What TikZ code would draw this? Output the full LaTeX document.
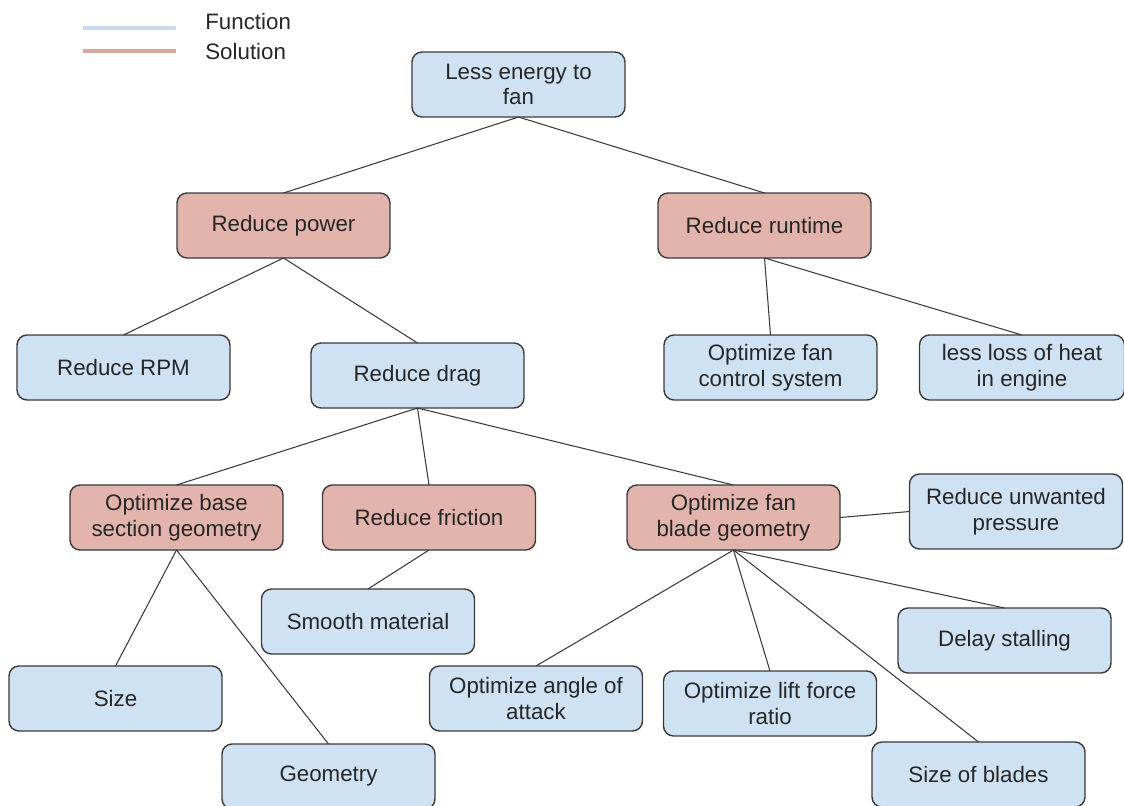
\documentclass[tikz,border=0pt]{standalone}
\usepackage{fontspec}
\setmainfont{Liberation Sans}
\usepackage{tikz}
\usetikzlibrary{positioning}

\definecolor{fnblue}{HTML}{CFE2F3}
\definecolor{solred}{HTML}{E2B4AB}
\definecolor{legblue}{HTML}{C9DAF0}
\definecolor{legred}{HTML}{DBA69B}
\definecolor{edgegrey}{HTML}{3A3A3A}

\begin{document}
\begin{tikzpicture}[box/.style={rectangle, rounded corners=0.2cm, draw=edgegrey, line width=0.8pt, minimum width=4.26cm, minimum height=1.3cm, inner sep=2pt, outer sep=0pt, align=center, text=black!85, font=\fontsize{12.7}{14.5}\selectfont},
        fn/.style={box, fill=fnblue},
        sol/.style={box, fill=solred},
        link/.style={draw=edgegrey, line width=0.6pt},
        node distance=1cm]
        \useasboundingbox (0,0) rectangle (22.48,-16.1);
        \clip (0,0) rectangle (22.48,-16.1);
        % legend
        \coordinate (lg_fn_a) at (1.66,-0.56);
        \coordinate (lg_fn_b) at (3.52,-0.56);
        \coordinate (lg_sol_a) at (1.66,-1.02);
        \coordinate (lg_sol_b) at (3.52,-1.02);
        \draw[legblue, line width=2.2pt] (lg_fn_a) -- (lg_fn_b);
        \draw[legred, line width=2.2pt] (lg_sol_a) -- (lg_sol_b);
        \node[anchor=west, inner sep=0pt, font=\fontsize{12.7}{14.5}\selectfont, text=black!85] (lg_fn) at (4.1,-0.44) {Function};
        \node[anchor=west, inner sep=0pt, font=\fontsize{12.7}{14.5}\selectfont, text=black!85] (lg_sol) at (4.1,-1.04) {Solution};

        % tree
        \node[fn] (energy) at (10.37,-1.69) {Less energy to\\fan};
        \node[sol] (power) [below = 1.52cm of energy, xshift=-4.7cm] {Reduce power};
        \node[sol] (runtime) [right = 5.36cm of power] {Reduce runtime};

        \node[fn] (rpm) [below = 1.54cm of power, xshift=-3.2cm] {Reduce RPM};
        \node[fn] (drag) [below = 1.7cm of power, xshift=2.68cm] {Reduce drag};
        \node[fn] (control) [below = 1.54cm of runtime, xshift=0.12cm] {Optimize fan\\control system};
        \node[fn, minimum width=4.1cm] (heat) [right = 0.85cm of control] {less loss of heat\\in engine};

        \node[sol] (base) [below = 1.54cm of drag, xshift=-4.82cm] {Optimize base\\section geometry};
        \node[sol] (friction) [right = 0.79cm of base] {Reduce friction};
        \node[sol] (blade) [right = 1.83cm of friction] {Optimize fan\\blade geometry};
        \node[fn, minimum height=1.5cm] (pressure) [right = 1.39cm of blade, yshift=0.12cm] {Reduce unwanted\\pressure};

        \node[fn] (smooth) [below = 0.78cm of friction, xshift=-1.22cm] {Smooth material};
        \node[fn] (size) [below = 2.32cm of base, xshift=-1.22cm] {Size};
        \node[fn] (geometry) [below = 3.88cm of base, xshift=3.04cm] {Geometry};
        \node[fn] (stalling) [below = 1.16cm of blade, xshift=5.42cm] {Delay stalling};
        \node[fn] (angle) [below = 2.32cm of blade, xshift=-3.95cm] {Optimize angle of\\attack};
        \node[fn] (lift) [below = 2.42cm of blade, xshift=0.73cm] {Optimize lift force\\ratio};
        \node[fn] (blades) [below = 3.84cm of blade, xshift=4.9cm] {Size of blades};

        \path[link] (energy.south) edge (power.north);
        \path[link] (energy.south) edge (runtime.north);
        \path[link] (power.south) edge (rpm.north);
        \path[link] (power.south) edge (drag.north);
        \path[link] (runtime.south) edge (control.north);
        \path[link] (runtime.south) edge (heat.north);
        \path[link] (drag.south) edge (base.north);
        \path[link] (drag.south) edge (friction.north);
        \path[link] (drag.south) edge (blade.north);
        \path[link] (blade.east) edge (pressure.west);
        \path[link] (friction.south) edge (smooth.north);
        \path[link] (base.south) edge (size.north);
        \path[link] (base.south) edge (geometry.north);
        \path[link] (blade.south) edge (stalling.north);
        \path[link] (blade.south) edge (angle.north);
        \path[link] (blade.south) edge (lift.north);
        \path[link] (blade.south) edge (blades.north);
    \end{tikzpicture}
\end{document}
